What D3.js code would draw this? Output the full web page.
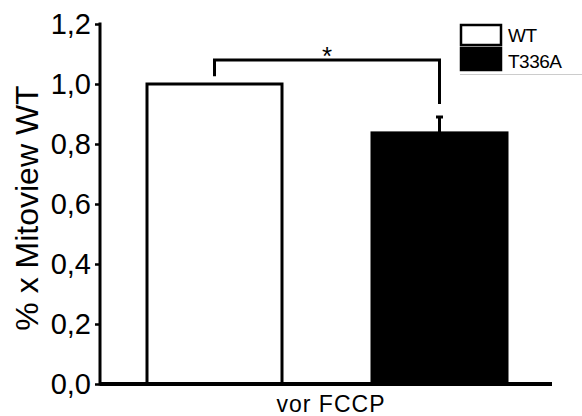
<!DOCTYPE html>
<html>
<head>
<meta charset="utf-8">
<script src="https://cdn.jsdelivr.net/npm/d3@7"></script>
<style>
  body { margin: 0; background: #fff; }
  svg { display: block; font-family: 'Liberation Sans', Arial, sans-serif; }
</style>
</head>
<body>
<div id="chart"></div>
<script>
// data
var groups = ['WT', 'T336A'];
var means = [1.0, 0.837];
var sems = [0, 0.053];
var fills = ['#ffffff', '#000000'];
var yTicks = [0, 0.2, 0.4, 0.6, 0.8, 1.0, 1.2];
var xLabel = 'vor FCCP';
var yLabel = '% x Mitoview WT';

var W = 582, H = 416;
var svg = d3.select('#chart').append('svg')
    .attr('width', W)
    .attr('height', H);

var x0 = 100, x1 = 552;
var y = d3.scaleLinear().domain([0, 1.2]).range([384, 24]);
// bar slots
var x = d3.scaleBand().domain(groups).range([147, 507]).paddingInner(0.4).paddingOuter(0);
function cx(g) { return x(g) + x.bandwidth() / 2; }

// bars
svg.selectAll('rect.bar')
    .data(groups)
    .enter().append('rect')
    .attr('class', 'bar')
    .attr('x', function(d) { return x(d); })
    .attr('width', x.bandwidth())
    .attr('y', function(d, i) { return y(means[i]); })
    .attr('height', function(d, i) { return y(0) - y(means[i]); })
    .style('fill', function(d, i) { return fills[i]; })
    .style('stroke', '#000')
    .style('stroke-width', 3);

// error bars (upper only)
groups.forEach(function(g, i) {
    if (!sems[i]) return;
    svg.append('line')
        .attr('x1', cx(g)).attr('x2', cx(g))
        .attr('y1', y(means[i])).attr('y2', y(means[i] + sems[i]))
        .style('stroke', '#000').style('stroke-width', 3);
    svg.append('line')
        .attr('x1', cx(g) - 3.5).attr('x2', cx(g) + 3.5)
        .attr('y1', y(means[i] + sems[i])).attr('y2', y(means[i] + sems[i]))
        .style('stroke', '#000').style('stroke-width', 3);
});

// y axis
var yAxis = d3.axisLeft(y)
    .tickValues(yTicks)
    .tickSize(5)
    .tickPadding(4)
    .tickFormat(function(d) { return d3.format('.1f')(d).replace('.', ','); });
var gy = svg.append('g')
    .attr('transform', 'translate(' + x0 + ',0)')
    .call(yAxis);
gy.select('.domain').remove();
gy.append('line')
    .attr('x1', 0).attr('x2', 0)
    .attr('y1', y(1.2) - 1.5).attr('y2', y(0) + 1.5)
    .style('stroke', '#000').style('stroke-width', 3);
gy.selectAll('.tick line').style('stroke-width', 2.5);
gy.selectAll('.tick text')
    .attr('font-size', 29)
    .attr('font-family', "'Liberation Sans', Arial, sans-serif")
    .attr('fill', '#000');

// x axis line
svg.append('line')
    .attr('x1', x0).attr('x2', x1)
    .attr('y1', y(0)).attr('y2', y(0))
    .style('stroke', '#000').style('stroke-width', 4);

svg.append('text')
    .attr('x', 331).attr('y', 412)
    .attr('text-anchor', 'middle')
    .attr('font-size', 23)
    .attr('letter-spacing', 1)
    .text(xLabel);

svg.append('text')
    .attr('transform', 'translate(38,208)rotate(-90)')
    .attr('text-anchor', 'middle')
    .attr('font-size', 32)
    .text(yLabel);

// significance bracket
var cxA = cx(groups[0]);
var cxB = cx(groups[1]);
svg.append('path')
    .attr('d', 'M' + cxA + ',' + y(1.026) + 'V' + y(1.08) + 'H' + cxB + 'V' + y(0.933))
    .style('fill', 'none')
    .style('stroke', '#000')
    .style('stroke-width', 3);
svg.append('text')
    .attr('x', 327).attr('y', 65)
    .attr('text-anchor', 'middle')
    .attr('font-size', 26)
    .text('*');

// legend
var leg = svg.append('g').attr('transform', 'translate(460,24)');
groups.forEach(function(g, i) {
    leg.append('rect')
        .attr('x', 1).attr('y', i === 0 ? 1 : 24)
        .attr('width', 40).attr('height', i === 0 ? 20 : 22)
        .style('fill', fills[i])
        .style('stroke', '#000')
        .style('stroke-width', 2.5);
    leg.append('text')
        .attr('x', 48).attr('y', i === 0 ? 18 : 44)
        .attr('font-size', 19)
        .attr('letter-spacing', -0.5)
        .text(g);
});
leg.append('line')
    .attr('x1', 0).attr('x2', 122)
    .attr('y1', 50.5).attr('y2', 50.5)
    .style('stroke', '#ccc').style('stroke-width', 1);
</script>
</body>
</html>
